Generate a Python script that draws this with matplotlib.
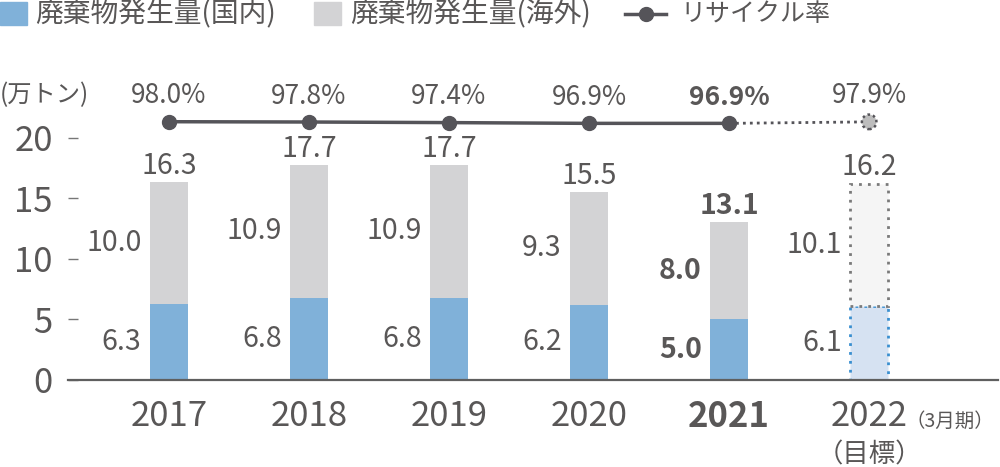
import matplotlib.pyplot as plt
from matplotlib.lines import Line2D
from matplotlib.patches import Rectangle

plt.rcParams["font.family"] = ["Noto Sans CJK JP", "DejaVu Sans"]

years = ["2017", "2018", "2019", "2020", "2021", "2022"]
domestic = [6.3, 6.8, 6.8, 6.2, 5.0, 6.1]
overseas = [10.0, 10.9, 10.9, 9.3, 8.0, 10.1]
totals = [16.3, 17.7, 17.7, 15.5, 13.1, 16.2]
rates = [98.0, 97.8, 97.4, 96.9, 96.9, 97.9]
yticks = [0, 5, 10, 15, 20]

TXT = "#595757"
BLUE = "#80b1d9"
GRAY = "#d3d3d5"
LINE = "#555459"

fig = plt.figure(figsize=(10, 4.67), dpi=100)
ax = fig.add_axes([0.068, 0.1863, 0.930, 0.6231])
ax2 = ax.twinx()
ax2.set_position(ax.get_position())

x = list(range(len(years)))
w = 0.27
n = len(years) - 1  # last one is the target year

# actual bars
ax.bar(x[:n], domestic[:n], width=w, color=BLUE, zorder=2)
ax.bar(x[:n], overseas[:n], width=w, bottom=domestic[:n], color=GRAY, zorder=2)
# target bar (dotted outline)
ax.bar(x[n], domestic[n], width=w, color="#d6e2f2", edgecolor="#3a8fd0",
       linestyle=(0, (1, 2.2)), linewidth=2, zorder=2)
ax.bar(x[n], overseas[n], width=w, bottom=domestic[n], color="#f5f5f5",
       edgecolor="#7a7a7a", linestyle=(0, (1, 2.2)), linewidth=2, zorder=2)

for i in x:
    fw = "bold" if years[i] == "2021" else "normal"
    ax.text(i - w / 2 - 0.06, domestic[i] / 2, f"{domestic[i]:.1f}", ha="right",
            va="center", fontsize=20.5, color=TXT, fontweight=fw)
    ax.text(i - w / 2 - 0.06, domestic[i] + overseas[i] / 2, f"{overseas[i]:.1f}",
            ha="right", va="center", fontsize=20.5, color=TXT, fontweight=fw)
    ax.annotate(f"{totals[i]:.1f}", (i, totals[i]), xytext=(0, 1),
                textcoords="offset points", ha="center", va="bottom",
                fontsize=20.5, color=TXT, fontweight=fw)

# recycling rate line
ax2.plot(x[:n], rates[:n], color=LINE, linewidth=2.5, marker="o",
         markersize=10, zorder=3)
ax2.plot(x[n - 1:], rates[n - 1:], color=LINE, linewidth=2,
         linestyle=(0, (1, 1.5)), zorder=2)
ax2.scatter([x[n]], [rates[n]], s=110, facecolor="#bdbdbd", edgecolor=LINE,
            linewidth=1.8, linestyle=(0, (1, 1.2)), zorder=4)
for i in x:
    fw = "bold" if years[i] == "2021" else "normal"
    ax2.annotate(f"{rates[i]:.1f}%", (i, rates[i]), xytext=(0, 9),
                 textcoords="offset points", ha="center", va="bottom",
                 fontsize=19, color=TXT, fontweight=fw)

ax.set_xlim(-0.72, 5.92)
ax.set_ylim(0, 24)
ax2.set_ylim(-74.2, 119.8)
ax2.axis("off")

for s in ["top", "right", "left"]:
    ax.spines[s].set_visible(False)
ax.spines["bottom"].set_color("#5f5f5f")
ax.spines["bottom"].set_linewidth(1.6)
ax.spines["bottom"].set_zorder(5)

ax.set_yticks(yticks)
ax.set_yticklabels([str(t) for t in yticks])
ax.tick_params(axis="y", direction="in", length=7, width=1, color="#777777",
               labelsize=25, labelcolor=TXT, pad=11)
ax.set_xticks(x)
ax.set_xticklabels(years)
ax.tick_params(axis="x", length=0, labelsize=25, labelcolor=TXT, pad=14)
ax.get_xticklabels()[4].set_fontweight("bold")

# extra labels for the target year
ax.annotate("（3月期）", (x[n], 0), xycoords="data", xytext=(26.5, -30),
            textcoords="offset points", ha="left", va="center",
            fontsize=14, color=TXT)
ax.annotate("（目標）", (x[n], 0), xycoords="data", xytext=(0, -54),
            textcoords="offset points", ha="center", va="center",
            fontsize=19, color=TXT)

fig.text(0.0, 1 - 95 / 467, "(万トン)", ha="left", va="center", fontsize=17.5,
         color=TXT)

# legend
fig.patches.append(Rectangle((0.0, 1 - 25 / 467), 0.027, 23 / 467,
                             transform=fig.transFigure, color=BLUE))
fig.text(0.035, 1 - 14 / 467, "廃棄物発生量(国内)", ha="left", va="center",
         fontsize=20, color=TXT)
fig.patches.append(Rectangle((0.314, 1 - 25 / 467), 0.027, 23 / 467,
                             transform=fig.transFigure, color=GRAY))
fig.text(0.350, 1 - 14 / 467, "廃棄物発生量(海外)", ha="left", va="center",
         fontsize=20, color=TXT)
fig.lines.append(Line2D([0.625, 0.666], [1 - 14 / 467] * 2, color=LINE,
                        linewidth=2.5, transform=fig.transFigure))
fig.lines.append(Line2D([0.6455], [1 - 14 / 467], color=LINE, marker="o",
                        markersize=10, transform=fig.transFigure))
fig.text(0.680, 1 - 14 / 467, "リサイクル率", ha="left", va="center",
         fontsize=18, color=TXT)

fig.savefig("out.png", dpi=100)
